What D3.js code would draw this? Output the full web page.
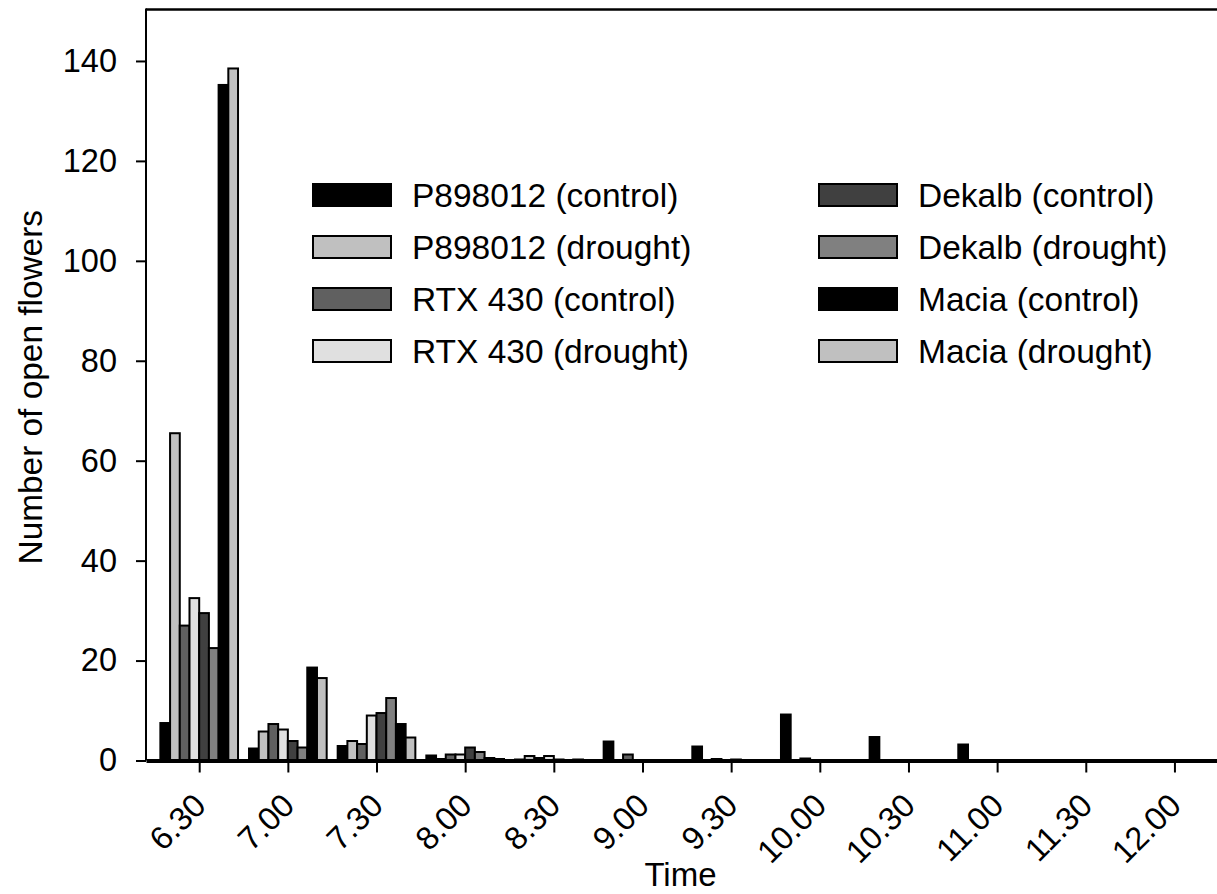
<!DOCTYPE html>
<html>
<head>
<meta charset="utf-8">
<script src="https://cdn.jsdelivr.net/npm/d3@7"></script>
<style>
	html, body { margin: 0; padding: 0; background: #fff; }
	svg { display: block; font-family: "Liberation Sans", Arial, sans-serif; }
</style>
</head>
<body>
<svg id="chart" width="1217" height="894"></svg>
<script>
// time of day, one group of bars per half hour
const times = ['6.30', '7.00', '7.30', '8.00', '8.30', '9.00', '9.30', '10.00', '10.30', '11.00', '11.30', '12.00'];

const p898012Control = [7.5, 2.4, 2.9, 1.0, 0.2, 3.8, 2.8, 9.2, 4.7, 3.2, 0, 0];
const p898012Drought = [65.5, 5.8, 3.9, 0.3, 0.9, 0, 0, 0, 0, 0, 0, 0];
const rtx430Control = [27.0, 7.3, 3.3, 1.2, 0.5, 1.2, 0.3, 0.4, 0, 0, 0, 0];
const rtx430Drought = [32.5, 6.2, 9.0, 1.2, 0.9, 0, 0, 0, 0, 0, 0, 0];
const dekalbControl = [29.5, 3.9, 9.5, 2.6, 0.2, 0, 0.2, 0, 0, 0, 0, 0];
const dekalbDrought = [22.5, 2.6, 12.5, 1.7, 0.1, 0, 0, 0, 0, 0, 0, 0];
const maciaControl = [135.2, 18.6, 7.3, 0.5, 0.2, 0, 0, 0, 0, 0, 0, 0];
const maciaDrought = [138.5, 16.5, 4.6, 0.3, 0, 0, 0, 0, 0, 0, 0, 0];

const seriesNames = [
	'P898012 (control)', 'P898012 (drought)', 'RTX 430 (control)', 'RTX 430 (drought)',
	'Dekalb (control)', 'Dekalb (drought)', 'Macia (control)', 'Macia (drought)'
];
const seriesValues = [
	p898012Control, p898012Drought, rtx430Control, rtx430Drought,
	dekalbControl, dekalbDrought, maciaControl, maciaDrought
];
const yTicks = [0, 20, 40, 60, 80, 100, 120, 140];

// grey fills, same order as the series
const fills = ['#000000', '#c0c0c0', '#606060', '#e0e0e0', '#404040', '#808080', '#000000', '#c0c0c0'];

const svg = d3.select('#chart');
const plotLeft = 146, plotRight = 1217, plotTop = 10, plotBottom = 760.5;

// x works on the half hour index, ticks sit on whole numbers
const x = d3.scaleLinear().domain([-0.6, 11.48]).range([plotLeft, plotRight]);
const y = d3.scaleLinear().domain([0, 150.2]).range([plotBottom, plotTop]);

// position of a bar inside its group
const sub = d3.scaleBand()
	.domain(d3.range(seriesNames.length))
	.range([-0.438, 0.438]);

const bars = [];
seriesValues.forEach((values, s) => {
	values.forEach((v, i) => bars.push({s, i, v}));
});

svg.append('g')
	.selectAll('rect')
	.data(bars)
	.join('rect')
	.attr('x', d => x(d.i + sub(d.s)))
	.attr('width', d => x(d.i + sub(d.s) + sub.bandwidth()) - x(d.i + sub(d.s)))
	.attr('y', d => y(d.v))
	.attr('height', d => y(0) - y(d.v))
	.attr('fill', d => fills[d.s])
	.attr('stroke', '#000')
	.attr('stroke-width', 2);

// frame: top line and left axis
svg.append('line')
	.attr('x1', plotLeft).attr('x2', plotRight)
	.attr('y1', plotTop - 0.5).attr('y2', plotTop - 0.5)
	.attr('stroke', '#000').attr('stroke-width', 2.5);

const yAxis = svg.append('g').attr('transform', `translate(${plotLeft},0)`)
	.call(d3.axisLeft(y).tickValues(yTicks).tickSize(10).tickPadding(19).tickSizeOuter(0));
yAxis.select('.domain').attr('stroke-width', 2).attr('d', `M0,${plotTop - 1.5}V${plotBottom}`);
yAxis.selectAll('.tick line').attr('stroke-width', 2);
yAxis.selectAll('.tick text').attr('font-size', 32.5).attr('fill', '#000').attr('font-family', null);

const xAxis = svg.append('g').attr('transform', `translate(0,${plotBottom})`)
	.call(d3.axisBottom(x).tickValues(d3.range(times.length)).tickSize(12).tickSizeOuter(0).tickFormat(i => times[i]));
xAxis.select('.domain').attr('stroke-width', 4);
xAxis.selectAll('.tick line').attr('stroke-width', 2);
xAxis.selectAll('.tick text')
	.attr('font-size', 32.5)
	.attr('font-family', null)
	.attr('fill', '#000')
	.attr('text-anchor', 'end')
	.attr('y', 0).attr('dy', 0)
	.attr('transform', 'translate(8,47) rotate(-45)');

// axis titles
svg.append('text')
	.attr('x', (plotLeft + plotRight) / 2 - 1)
	.attr('y', 886)
	.attr('text-anchor', 'middle')
	.attr('font-size', 33)
	.text('Time');

svg.append('text')
	.attr('transform', `translate(42,${(plotTop + plotBottom) / 2 + 2}) rotate(-90)`)
	.attr('text-anchor', 'middle')
	.attr('font-size', 33.4)
	.text('Number of open flowers');

// legend, two columns of four
const legend = svg.append('g')
	.selectAll('g')
	.data(seriesNames)
	.join('g')
	.attr('transform', (d, k) => `translate(${k < 4 ? 313 : 819},${195 + (k % 4) * 52})`);

legend.append('rect')
	.attr('x', 0).attr('y', -11)
	.attr('width', 78).attr('height', 22)
	.attr('fill', (d, k) => fills[k])
	.attr('stroke', '#000')
	.attr('stroke-width', 2);

legend.append('text')
	.attr('x', 99)
	.attr('dy', '0.35em')
	.attr('font-size', 33.5)
	.text(d => d);
</script>
</body>
</html>
